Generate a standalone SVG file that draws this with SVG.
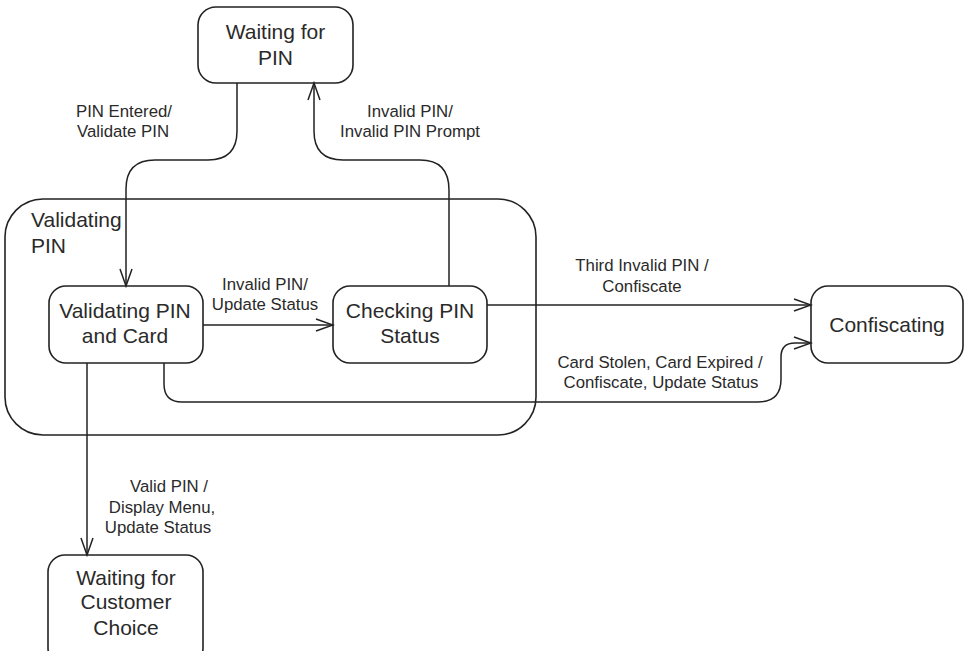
<svg xmlns="http://www.w3.org/2000/svg" width="965" height="651" viewBox="0 0 965 651">
<defs>
<marker id="arr" viewBox="0 0 20 14" refX="18" refY="7" markerWidth="20" markerHeight="14" markerUnits="userSpaceOnUse" orient="auto">
<path d="M1,1 L18,7 L1,13" fill="none" stroke="#222" stroke-width="1.5"/>
</marker>
<style>
.box{fill:#fff;stroke:#222;stroke-width:1.6}
.big{font-family:Arial,"Liberation Sans",Helvetica,sans-serif;font-size:21px;fill:#2a2a2a}
.sm{font-family:Arial,"Liberation Sans",Helvetica,sans-serif;font-size:16.8px;fill:#2a2a2a;text-anchor:middle}
.c{text-anchor:middle}
.ln{fill:none;stroke:#222;stroke-width:1.5}
</style>
</defs>
<rect width="965" height="651" fill="#fff"/>
<g id="validating-pin">
<rect class="box" x="5" y="199" width="531" height="236" rx="38"/>
<text class="big" x="31" y="227">Validating</text>
<text class="big" x="31" y="253">PIN</text>
</g>
<g id="waiting-for-pin">
<rect class="box" x="198" y="7" width="155" height="76" rx="18"/>
<text class="big c" x="275.5" y="39">Waiting for</text>
<text class="big c" x="275.5" y="65">PIN</text>
</g>
<g id="validating-pin-card">
<rect class="box" x="49" y="286" width="154" height="77" rx="17"/>
<text class="big c" x="125" y="318">Validating PIN</text>
<text class="big c" x="125" y="343">and Card</text>
</g>
<g id="checking-pin-status">
<rect class="box" x="333" y="286" width="154" height="77" rx="17"/>
<text class="big c" x="410" y="318">Checking PIN</text>
<text class="big c" x="410" y="343">Status</text>
</g>
<g id="confiscating">
<rect class="box" x="811" y="286" width="152" height="77" rx="17"/>
<text class="big c" x="887" y="332">Confiscating</text>
</g>
<g id="waiting-customer">
<rect class="box" x="48" y="555" width="155" height="110" rx="17"/>
<text class="big c" x="126" y="585">Waiting for</text>
<text class="big c" x="126" y="609">Customer</text>
<text class="big c" x="126" y="635">Choice</text>
</g>
<g id="connectors">
<path class="ln" d="M237,83 V131 Q237,160 208,160 H155 Q126,160 126,189 V286" marker-end="url(#arr)"/>
<path class="ln" d="M449,286 V190 Q449,160 420,160 H343 Q314,160 314,131 V83" marker-end="url(#arr)"/>
<path class="ln" d="M203,325 H333" marker-end="url(#arr)"/>
<path class="ln" d="M487,305 H811" marker-end="url(#arr)"/>
<path class="ln" d="M164,363 V384 Q164,402 182,402 H758 Q781,402 781,379 V357 Q781,343 795,343 H811" marker-end="url(#arr)"/>
<path class="ln" d="M87,363 V555" marker-end="url(#arr)"/>
</g>
<g id="labels">
<text class="sm" x="124" y="117">PIN Entered/</text>
<text class="sm" x="123" y="137">Validate PIN</text>
<text class="sm" x="410" y="117">Invalid PIN/</text>
<text class="sm" x="410" y="137">Invalid PIN Prompt</text>
<text class="sm" x="265" y="290">Invalid PIN/</text>
<text class="sm" x="265" y="310">Update Status</text>
<text class="sm" x="642" y="271">Third Invalid PIN /</text>
<text class="sm" x="642" y="292">Confiscate</text>
<text class="sm" x="660" y="368">Card Stolen, Card Expired /</text>
<text class="sm" x="661" y="388">Confiscate, Update Status</text>
<text class="sm" x="169" y="492">Valid PIN /</text>
<text class="sm" x="162" y="513">Display Menu,</text>
<text class="sm" x="158" y="533">Update Status</text>
</g>
</svg>
